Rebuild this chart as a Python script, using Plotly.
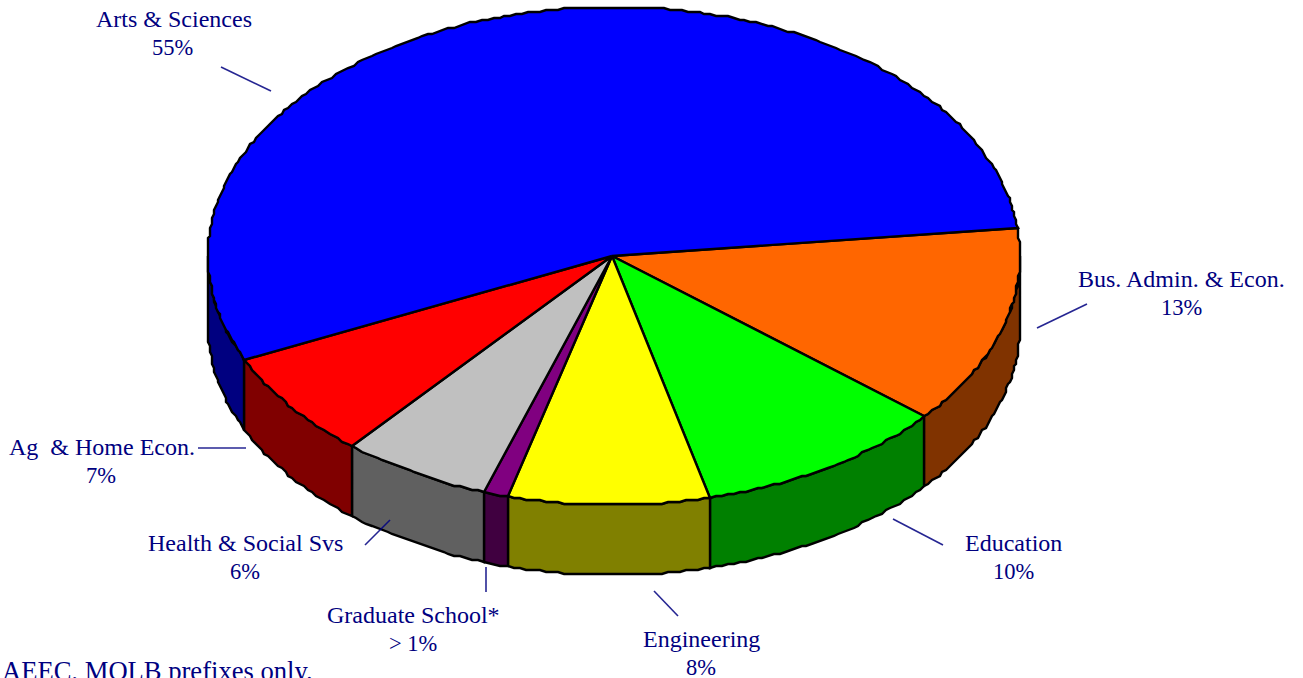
import numpy as np
import plotly.graph_objects as go

categories = ["Bus. Admin. & Econ.", "Education", "Engineering", "Graduate School*",
              "Health & Social Svs", "Ag  & Home Econ.", "Arts & Sciences"]
values = [13, 10, 8, 1, 6, 7, 55]
value_labels = ["13%", "10%", "8%", "> 1%", "6%", "7%", "55%"]
top_colors = ["#FF6600", "#00FF00", "#FFFF00", "#800080", "#C0C0C0", "#FF0000", "#0000FF"]
side_colors = ["#803300", "#008000", "#808000", "#400040", "#606060", "#800000", "#000080"]
footnote = "AEEC, MOLB prefixes only."

# geometry of the projected pie, in pixels
CX, CY, RX, RY, DEPTH = 614, 256, 406, 249, 70
APEX_X = 612
START_DEG = 6.6
GRID = 2.0
NAVY = "#000080"
LINE = "#000000"

label_xy = [(1181, 293), (1013, 557), (701, 653), (413, 629), (245, 557), (101.5, 461), (174, 33)]
value_x = [1181, 1013, 701, 413, 245, 101, 172.5]
LINE_GAP = 14
leaders = [((1037, 328), (1087, 304)), ((893, 519), (943, 545)), ((654, 591), (678, 616)),
           ((486, 567), (486, 592)), ((365, 545), (390, 520)), ((198, 448), (246, 448)),
           ((221, 67), (271, 91))]

fracs = np.array(values, dtype=float) / sum(values)
edges = START_DEG - 360 * np.concatenate([[0], np.cumsum(fracs)])


def arc(a0, a1, dy=0):
    t = np.radians(np.linspace(a0, a1, max(int(abs(a1 - a0) * 1.2), 2)))
    x = np.round((CX + RX * np.cos(t)) / GRID) * GRID
    y = np.round((CY - RY * np.sin(t)) / GRID) * GRID + dy
    return x, y


fig = go.Figure()


def poly(x, y, color):
    fig.add_trace(go.Scatter(x=x, y=y, mode="lines", fill="toself", fillcolor=color,
                             line=dict(color=LINE, width=2.4), hoverinfo="skip", showlegend=False))


# side wall, only the front half of the rim is visible
for i in range(len(values)):
    a0, a1 = edges[i], edges[i + 1]
    lo, hi = max(a1, -180), min(a0, 0)
    if lo >= hi:
        continue
    x1, y1 = arc(hi, lo)
    x2, y2 = arc(lo, hi, DEPTH)
    poly(np.r_[x1, x2, x1[0]], np.r_[y1, y2, y1[0]], side_colors[i])

# top faces
for i in range(len(values)):
    x, y = arc(edges[i], edges[i + 1])
    poly(np.r_[APEX_X, x, APEX_X], np.r_[CY, y, CY], top_colors[i])

# leader lines
for (p, q) in leaders:
    fig.add_trace(go.Scatter(x=[p[0], q[0]], y=[p[1], q[1]], mode="lines",
                             line=dict(color=NAVY, width=1.6), opacity=0.85,
                             hoverinfo="skip", showlegend=False))

FONT = dict(family="Liberation Serif", size=24, color=NAVY)
FONT_VALUE = dict(family="Liberation Serif", size=22.5, color=NAVY)
annotations = []
for c, v, xy, vx in zip(categories, value_labels, label_xy, value_x):
    annotations.append(dict(x=xy[0], y=xy[1] - LINE_GAP, xref="x", yref="y", text=c, showarrow=False,
                            xanchor="center", yanchor="middle", font=FONT))
    annotations.append(dict(x=vx, y=xy[1] + LINE_GAP, xref="x", yref="y", text=v, showarrow=False,
                            xanchor="center", yanchor="middle", font=FONT_VALUE))
annotations.append(dict(x=0, y=671, xref="x", yref="y", text=footnote, showarrow=False,
                        xanchor="left", yanchor="middle",
                        font=dict(family="Liberation Serif", size=26.6, color=NAVY)))

fig.update_layout(
    width=1303, height=678, margin=dict(l=0, r=0, t=0, b=0),
    paper_bgcolor="white", plot_bgcolor="white", showlegend=False,
    xaxis=dict(range=[0, 1303], visible=False, fixedrange=True),
    yaxis=dict(range=[678, 0], visible=False, fixedrange=True),
    annotations=annotations,
)
fig.write_html("out.html", config={"displayModeBar": False},
               post_script="document.body.style.margin='0';document.body.style.overflow='hidden';")
